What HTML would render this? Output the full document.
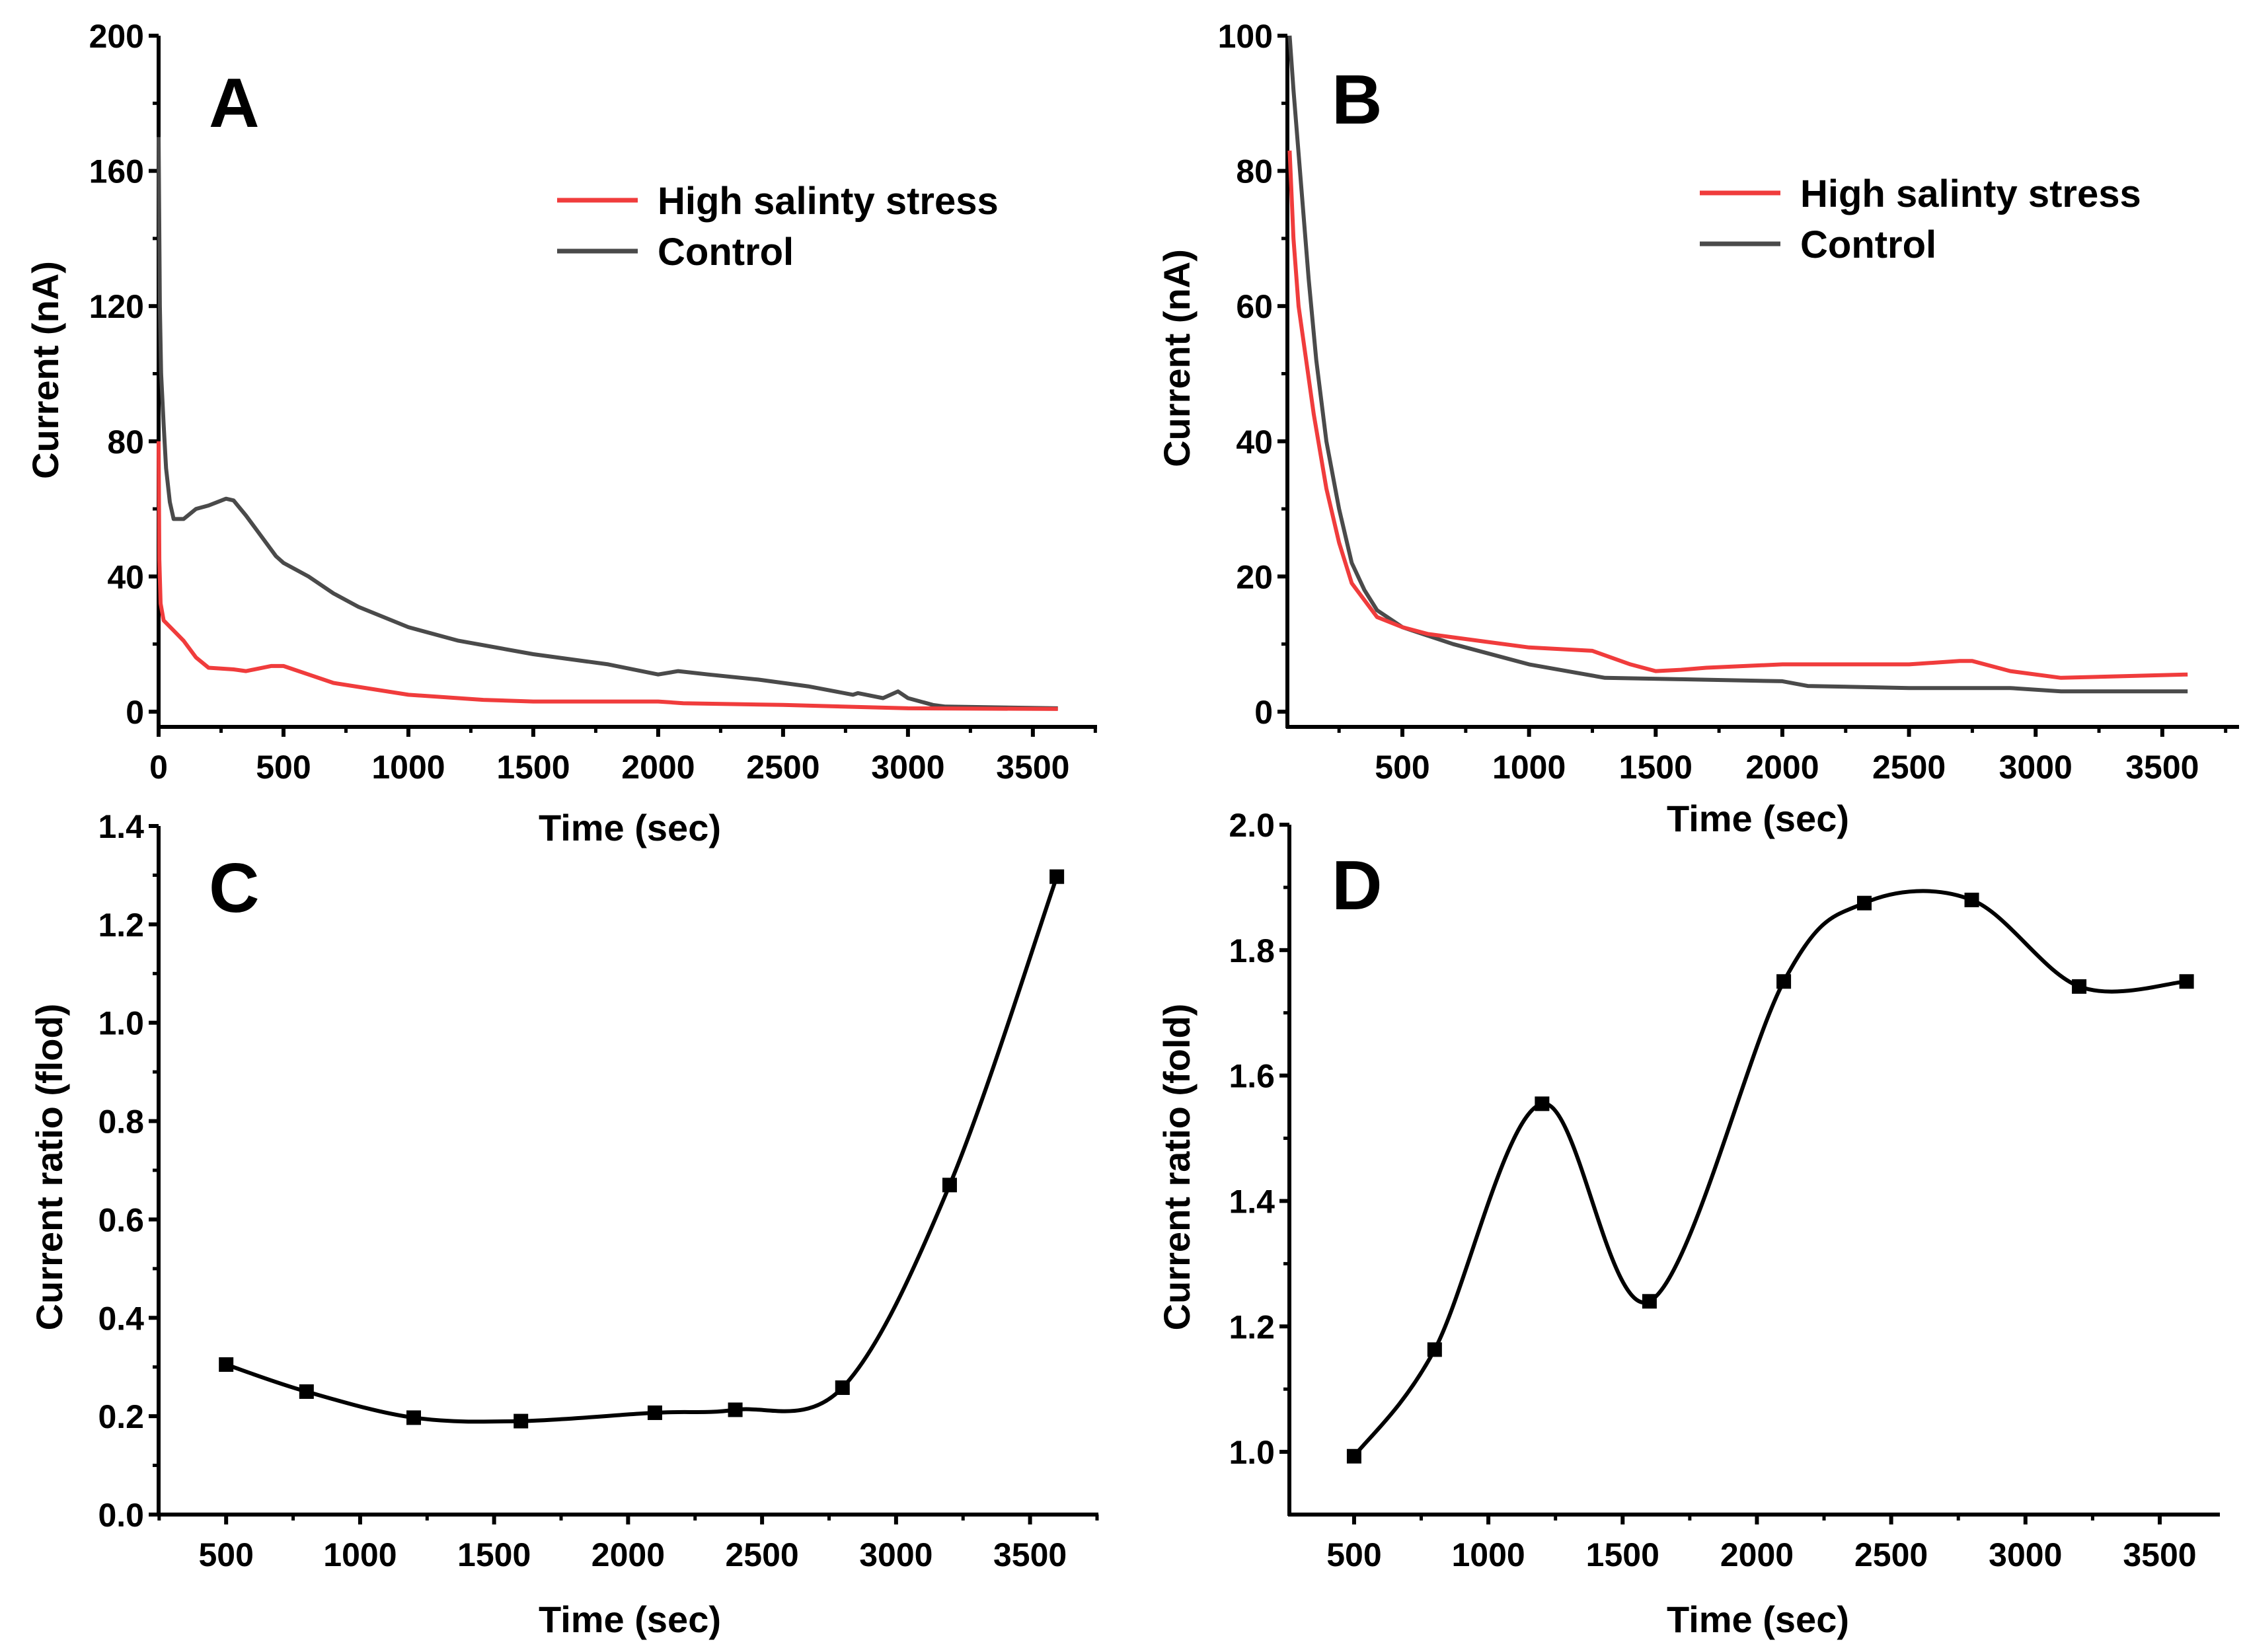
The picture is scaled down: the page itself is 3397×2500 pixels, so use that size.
<!DOCTYPE html>
<html><head><meta charset="utf-8"><style>
html,body{margin:0;padding:0;background:#fff}
svg{display:block}
text{font-family:"Liberation Sans",Arial,sans-serif;font-weight:bold;fill:#000}
</style></head><body>
<svg id="fig" width="3397" height="2500" viewBox="0 0 3397 2500" xmlns="http://www.w3.org/2000/svg"></svg>
<script>
// ---- Panel A data ----
const aCtrlT = [0,5,10,20,30,45,60,100,150,200,270,300,350,400,470,500,600,700,800,1000,1200,1500,1800,2000,2080,2200,2400,2600,2780,2800,2900,2960,3000,3100,3150,3600];
const aCtrlV = [170,120,100,85,72,62,57,57,60,61,63,62.5,58,53,46,44,40,35,31,25,21,17,14,11,12,11,9.5,7.5,5,5.5,4,6,4,2,1.5,1];
const aSaltT = [0,3,8,20,60,100,150,200,300,350,450,500,600,700,1000,1300,1500,2000,2100,2500,3000,3600];
const aSaltV = [80,45,32,27,24,21,16,13,12.5,12,13.5,13.5,11,8.5,5,3.5,3,3,2.5,2,1,0.8];
// ---- Panel B data ----
const bSaltT = [55,70,90,120,150,200,250,300,400,500,600,700,800,1000,1250,1400,1500,1600,1700,2000,2500,2700,2750,2900,3100,3600];
const bSaltV = [83,70,60,52,44,33,25,19,14,12.5,11.5,11,10.5,9.5,9,7,6,6.2,6.5,7,7,7.5,7.5,6,5,5.5];
const bCtrlT = [55,70,100,130,160,200,250,300,350,400,500,700,1000,1300,1600,2000,2100,2500,2900,3100,3600];
const bCtrlV = [100,92,78,64,52,40,30,22,18,15,12.5,10,7,5,4.8,4.5,3.8,3.5,3.5,3,3];
// ---- Panel C data ----
const cTime = [500,800,1200,1600,2100,2400,2800,3200,3600];
const cRatio = [0.305,0.25,0.197,0.19,0.207,0.213,0.258,0.67,1.297];
// ---- Panel D data ----
const dTime = [500,800,1200,1600,2100,2400,2800,3200,3600];
const dRatio = [0.993,1.163,1.555,1.24,1.75,1.875,1.88,1.742,1.75];
// ---- tick labels ----
const aYTicks = [0,40,80,120,160,200];
const bYTicks = [0,20,40,60,80,100];
const cYTicks = [0.0,0.2,0.4,0.6,0.8,1.0,1.2,1.4];
const dYTicks = [1.0,1.2,1.4,1.6,1.8,2.0];
const aXTicks = [0,500,1000,1500,2000,2500,3000,3500];
const bXTicks = [500,1000,1500,2000,2500,3000,3500];

const NS = "http://www.w3.org/2000/svg";
const svg = document.getElementById('fig');
function el(tag, attrs, parent){const e=document.createElementNS(NS,tag);for(const k in attrs)e.setAttribute(k,attrs[k]);(parent||svg).appendChild(e);return e;}

function panel(cfg){
  const g = el('g',{});
  
  
  const sx = v => cfg.x0 + (v - cfg.xmin)/(cfg.xmax - cfg.xmin)*(cfg.x1 - cfg.x0);
  const sy = v => cfg.y1 - (v - cfg.ymin)/(cfg.ymax - cfg.ymin)*(cfg.y1 - cfg.y0);
  const ax = el('line',{x1:cfg.x0-2,y1:cfg.y1,x2:cfg.x1,y2:cfg.y1,stroke:'#000','stroke-width':6},g);
  
  
  const ay = el('line',{x1:cfg.x0,y1:cfg.y0,x2:cfg.x0,y2:cfg.y1+2,stroke:'#000','stroke-width':6},g);
  
  
  const ystep = cfg.yTicks[1]-cfg.yTicks[0];
  cfg.yTicks.forEach((v,i)=>{
    const y = sy(v);
    el('line',{x1:cfg.x0-15,y1:y,x2:cfg.x0,y2:y,stroke:'#000','stroke-width':6},g);
    const t = el('text',{x:cfg.x0-22,y:y+18,'text-anchor':'end','font-size':50},g);
    t.textContent = cfg.yFmt(v);
    
    
    const m = v + ystep/2;
    if (m < cfg.ymax) el('line',{x1:cfg.x0-9,y1:sy(m),x2:cfg.x0,y2:sy(m),stroke:'#000','stroke-width':5},g);
  });
  for (let v = Math.ceil(cfg.xmin/250)*250; v <= cfg.xmax; v += 250){
    const x = sx(v); const major = v % 500 === 0;
    el('line',{x1:x,y1:cfg.y1,x2:x,y2:cfg.y1+(major?15:9),stroke:'#000','stroke-width':major?6:5},g);
  }
  cfg.xTicks.forEach(v=>{
    const t = el('text',{x:sx(v),y:cfg.y1+78,'text-anchor':'middle','font-size':50},g);
    t.textContent = v;
    
    
  });
  const xt = el('text',{x:cfg.xtX,y:cfg.xtY,'text-anchor':'middle','font-size':56},g);
  xt.textContent = 'Time (sec)';
  
  
  const yt = el('text',{x:0,y:0,'text-anchor':'middle','font-size':56,transform:`translate(${cfg.ytX},${cfg.ytY}) rotate(-90)`},g);
  yt.textContent = cfg.yTitle;
  
  
  const lt = el('text',{x:cfg.letterX,y:cfg.letterY,'font-size':106},g);
  lt.textContent = cfg.letter;
  
  
  return {g, sx, sy};
}

function polyline(p, T, V, color, name){
  const pts = T.map((t,i)=>p.sx(t).toFixed(1)+','+p.sy(V[i]).toFixed(1)).join(' ');
  const l = el('polyline',{points:pts,fill:'none',stroke:color,'stroke-width':6,'stroke-linejoin':'round'},p.g);
  
  
}

function spline(p, T, V, name){
  const P = T.map((t,i)=>[p.sx(t),p.sy(V[i])]);
  let d = `M${P[0][0]},${P[0][1]}`;
  for (let i=0;i<P.length-1;i++){
    const p0=P[Math.max(i-1,0)],p1=P[i],p2=P[i+1],p3=P[Math.min(i+2,P.length-1)];
    const c1=[p1[0]+(p2[0]-p0[0])/6,p1[1]+(p2[1]-p0[1])/6];
    const c2=[p2[0]-(p3[0]-p1[0])/6,p2[1]-(p3[1]-p1[1])/6];
    d += ` C${c1[0]},${c1[1]} ${c2[0]},${c2[1]} ${p2[0]},${p2[1]}`;
  }
  const path = el('path',{d,fill:'none',stroke:'#000','stroke-width':6},p.g);
  
  
  P.forEach(q=>{
    const r = el('rect',{x:q[0]-11,y:q[1]-11,width:22,height:22,fill:'#000'},p.g);
    
    
  });
}

function legend(p, x, y){
  const items = [['High salinty stress','#f03c3c'],['Control','#4a4a4a']];
  items.forEach((it,i)=>{
    const yy = y + i*77;
    const l = el('line',{x1:x,y1:yy,x2:x+122,y2:yy,stroke:it[1],'stroke-width':7},p.g);
    
    
    const t = el('text',{x:x+152,y:yy+21,'font-size':58},p.g);
    t.textContent = it[0];
    
    
  });
}

const pA = panel({name:'panel-a',x0:240,x1:1660,y0:54,y1:1100,xmin:0,xmax:3757,ymin:-4.5,ymax:200,
  yTicks:aYTicks,xTicks:aXTicks,yFmt:v=>v,yTitle:'Current (nA)',ytX:88,ytY:560,xtX:953,xtY:1272,letter:'A',letterX:316,letterY:192});
polyline(pA,aCtrlT,aCtrlV,'#4a4a4a','control-line');
polyline(pA,aSaltT,aSaltV,'#f03c3c','salinity-line');
legend(pA,843,303);

const pB = panel({name:'panel-b',x0:1948,x1:3388,y0:54,y1:1100,xmin:46,xmax:3803,ymin:-2.25,ymax:100,
  yTicks:bYTicks,xTicks:bXTicks,yFmt:v=>v,yTitle:'Current (nA)',ytX:1800,ytY:542,xtX:2660,xtY:1258,letter:'B',letterX:2015,letterY:187});
polyline(pB,bCtrlT,bCtrlV,'#4a4a4a','control-line');
polyline(pB,bSaltT,bSaltV,'#f03c3c','salinity-line');
legend(pB,2572,292);

const pC = panel({name:'panel-c',x0:240,x1:1662,y0:1250,y1:2292,xmin:248,xmax:3755,ymin:0,ymax:1.4,
  yTicks:cYTicks,xTicks:bXTicks,yFmt:v=>v.toFixed(1),yTitle:'Current ratio (flod)',ytX:94,ytY:1766,xtX:953,xtY:2470,letter:'C',letterX:316,letterY:1380});
spline(pC,cTime,cRatio,'ratio-curve');

const pD = panel({name:'panel-d',x0:1951,x1:3359,y0:1248,y1:2292,xmin:259,xmax:3724,ymin:0.9,ymax:2.0,
  yTicks:dYTicks,xTicks:bXTicks,yFmt:v=>v.toFixed(1),yTitle:'Current ratio (fold)',ytX:1800,ytY:1766,xtX:2660,xtY:2470,letter:'D',letterX:2015,letterY:1376});
spline(pD,dTime,dRatio,'ratio-curve');
</script>
</body></html>
